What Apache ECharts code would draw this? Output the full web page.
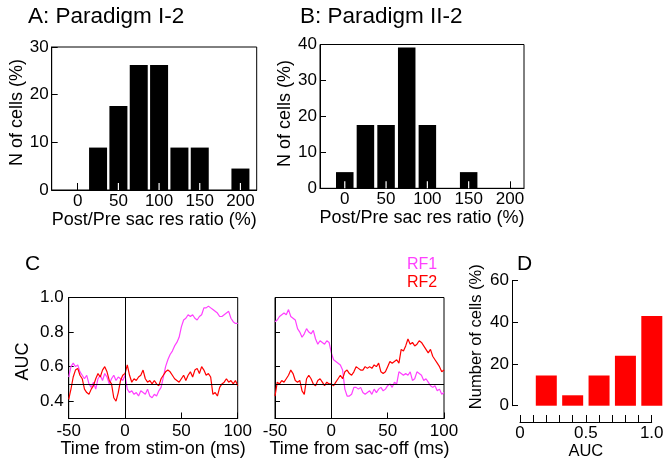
<!DOCTYPE html>
<html>
<head>
<meta charset="utf-8">
<title>Post/Pre saccade ratio and AUC</title>
<script src="https://cdn.jsdelivr.net/npm/echarts@6/dist/echarts.min.js"></script>
<style>
  html, body { margin: 0; padding: 0; background: #fff; }
  #chart { width: 665px; height: 466px; }
</style>
</head>
<body>
<div id="chart"></div>
<script>
// ---- data ----

// A: Paradigm I-2 histogram (bin centre, % of cells)
const binsA = [25, 50, 75, 100, 125, 150, 200]
const pctA = [8.9, 17.6, 26.2, 26.2, 8.9, 8.9, 4.5]

// B: Paradigm II-2 histogram
const binsB = [0, 25, 50, 75, 100, 150]
const pctB = [4.5, 17.6, 17.6, 39.2, 17.6, 4.5]

// D: AUC histogram
const binsD = [0.2, 0.4, 0.6, 0.8, 1.0]
const pctD = [14.5, 5, 14.5, 24, 43]

// tick labels
const ratioTicks = [0, 50, 100, 150, 200]
const aucTicks = [0.4, 0.6, 0.8, 1.0]
const rulerTicks = [0, 0.1, 0.2, 0.3, 0.4, 0.5, 0.6, 0.7, 0.8, 0.9, 1.0]
const rulerLabels = [0, 0.5, 1.0]

// C: time base, -50 .. 100 ms every 2 ms
const timeMs = []
for (let t = -50; t <= 100; t += 2) timeMs.push(t)

// C left: aligned to stim-on
const stimRF1 = [
  0.54, 0.60, 0.62, 0.60, 0.61, 0.57, 0.55, 0.53, 0.55, 0.50,
  0.48, 0.51, 0.47, 0.53, 0.55, 0.52, 0.56, 0.54, 0.50, 0.53,
  0.55, 0.52, 0.54, 0.53, 0.52, 0.55, 0.47, 0.45, 0.46, 0.44,
  0.45, 0.43, 0.46, 0.45, 0.44, 0.47, 0.43, 0.42, 0.44, 0.43,
  0.46, 0.48, 0.54, 0.60, 0.64, 0.67, 0.69, 0.72, 0.74, 0.77,
  0.83, 0.87, 0.88, 0.90, 0.89, 0.90, 0.88, 0.87, 0.89, 0.90,
  0.94, 0.94, 0.95, 0.94, 0.93, 0.92, 0.91, 0.89, 0.89, 0.90,
  0.91, 0.92, 0.88, 0.86, 0.85, 0.85
]
const stimRF2 = [
  0.41, 0.47, 0.54, 0.58, 0.59, 0.55, 0.53, 0.47, 0.45, 0.44,
  0.47, 0.49, 0.53, 0.56, 0.54, 0.58, 0.60, 0.57, 0.52, 0.50,
  0.42, 0.40, 0.45, 0.52, 0.55, 0.56, 0.61, 0.55, 0.51, 0.53,
  0.52, 0.54, 0.55, 0.58, 0.53, 0.51, 0.52, 0.50, 0.52, 0.50,
  0.49, 0.53, 0.55, 0.57, 0.58, 0.57, 0.55, 0.53, 0.52, 0.51,
  0.53, 0.55, 0.52, 0.55, 0.57, 0.54, 0.58, 0.59, 0.56, 0.60,
  0.58, 0.55, 0.56, 0.54, 0.44, 0.45, 0.43, 0.48, 0.50, 0.51,
  0.53, 0.51, 0.52, 0.50, 0.52, 0.49
]

// C right: aligned to saccade offset
const sacRF1 = [
  0.86, 0.87, 0.89, 0.90, 0.91, 0.90, 0.93, 0.89, 0.88, 0.87,
  0.82, 0.80, 0.77, 0.79, 0.82, 0.80, 0.79, 0.81, 0.76, 0.73,
  0.75, 0.74, 0.73, 0.75, 0.74, 0.68, 0.64, 0.63, 0.62, 0.61,
  0.58, 0.47, 0.43, 0.43, 0.44, 0.48, 0.48, 0.47, 0.48, 0.45,
  0.44, 0.45, 0.46, 0.44, 0.47, 0.45, 0.47, 0.48, 0.46, 0.47,
  0.49, 0.50, 0.48, 0.51, 0.50, 0.57, 0.56, 0.55, 0.56, 0.55,
  0.57, 0.52, 0.53, 0.57, 0.56, 0.55, 0.52, 0.53, 0.51, 0.49,
  0.48, 0.49, 0.46, 0.47, 0.44, 0.45
]
const sacRF2 = [
  0.43, 0.51, 0.50, 0.52, 0.51, 0.53, 0.55, 0.58, 0.56, 0.52,
  0.51, 0.52, 0.46, 0.44, 0.53, 0.55, 0.53, 0.50, 0.49, 0.52,
  0.53, 0.51, 0.49, 0.51, 0.50, 0.50, 0.49, 0.51, 0.53, 0.55,
  0.53, 0.57, 0.58, 0.56, 0.55, 0.57, 0.60, 0.59, 0.58, 0.58,
  0.60, 0.59, 0.60, 0.59, 0.61, 0.60, 0.62, 0.57, 0.56, 0.57,
  0.60, 0.63, 0.62, 0.63, 0.64, 0.62, 0.70, 0.69, 0.72, 0.76,
  0.73, 0.74, 0.72, 0.73, 0.75, 0.74, 0.72, 0.70, 0.68, 0.70,
  0.66, 0.64, 0.62, 0.60, 0.57, 0.58
]

// ---- styling ----
const FONT = "'Liberation Sans', Arial, sans-serif"
const MAGENTA = '#ff40ff'
const RED = '#ff0000'
const TICK = 17   // tick label size
const NAME = 18   // axis name size

const pairs = (xs, ys) => xs.map((x, i) => [x, ys[i]])

// ticks that fall inside a bar show as white notches in the reference
const ticksInBars = (ticks, bins, half) =>
  ticks.filter(t => bins.some(b => Math.abs(b - t) < half))

const box = (left, top, width, height) => ({
  left, top, width, height,
  show: true,
  borderColor: '#000',
  borderWidth: 1,
  backgroundColor: 'transparent',
  containLabel: false,
  outerBoundsMode: 'none'
})

const plainGrid = (left, top, width, height) => ({
  left, top, width, height, show: false, containLabel: false, outerBoundsMode: 'none'
})

const axisBase = (extra) => Object.assign({
  type: 'value',
  axisLine: { show: true, onZero: false, lineStyle: { color: '#000', width: 1 } },
  axisTick: { show: true, inside: true, length: 6, lineStyle: { color: '#000', width: 1 } },
  axisLabel: { color: '#000', fontSize: TICK, fontFamily: FONT, margin: 4 },
  splitLine: { show: false },
  nameLocation: 'middle',
  nameTextStyle: { color: '#000', fontSize: NAME, fontFamily: FONT }
}, extra)

const ratioAxis = (gridIndex, min, max) => axisBase({
  gridIndex, min, max,
  axisTick: { inside: true, length: 7, customValues: ratioTicks, lineStyle: { color: '#000' } },
  axisLabel: { color: '#000', fontSize: TICK, fontFamily: FONT, margin: 3, customValues: ratioTicks },
  name: 'Post/Pre sac res ratio (%)', nameGap: 17
})

// white tick notches drawn on top of the bars, placed through the axis scale
const notchSeries = (axisIdx, values) => ({
  type: 'custom',
  xAxisIndex: axisIdx,
  yAxisIndex: axisIdx,
  z: 5,
  silent: true,
  data: values.map(v => [v, 0]),
  renderItem: (params, api) => {
    const p = api.coord([api.value(0), api.value(1)])
    return {
      type: 'line',
      shape: { x1: p[0], y1: p[1], x2: p[0], y2: p[1] - 7 },
      style: { stroke: '#fff', lineWidth: 1.2 }
    }
  }
})

const refLines = {
  silent: true,
  symbol: ['none', 'none'],
  label: { show: false },
  lineStyle: { color: '#000', width: 1, type: 'solid' },
  data: [{ yAxis: 0.5 }, { xAxis: 0 }]
}

const lineSeries = (name, values, color, axisIdx, withRef) => ({
  name,
  type: 'line',
  xAxisIndex: axisIdx,
  yAxisIndex: axisIdx,
  data: pairs(timeMs, values),
  showSymbol: false,
  lineStyle: { color, width: 1.2 },
  itemStyle: { color },
  markLine: withRef ? refLines : undefined
})

const textEl = (text, x, y, size, color) => ({
  type: 'text',
  left: x,
  top: y,
  style: { text, font: `${size}px ${FONT}`, fill: color || '#000' }
})

const option = {
  animation: false,
  backgroundColor: '#fff',
  grid: [
    box(51.7, 47, 205, 143),     // A
    box(320, 44.5, 204, 143.8),  // B
    box(68.7, 297.5, 169, 121),  // C left
    box(275, 297.5, 169, 121),   // C right
    plainGrid(512, 280.7, 153, 125),  // D bars
    plainGrid(520, 400, 131.7, 22)    // D ruler
  ],
  xAxis: [
    ratioAxis(0, -32, 220),
    ratioAxis(1, -30, 217),
    axisBase({ gridIndex: 2, min: -50, max: 100, interval: 50, name: 'Time from stim-on (ms)', nameGap: 20 }),
    axisBase({ gridIndex: 3, min: -50, max: 100, interval: 50, name: 'Time from sac-off (ms)', nameGap: 20 }),
    { gridIndex: 4, type: 'value', min: -0.06, max: 1.1, show: false },
    axisBase({
      gridIndex: 5, min: 0, max: 1,
      axisTick: { inside: true, length: 7, customValues: rulerTicks, lineStyle: { color: '#000' } },
      axisLabel: {
        color: '#000', fontSize: TICK, fontFamily: FONT, margin: 3, customValues: rulerLabels,
        formatter: (v) => (v === 0 ? '0' : v.toFixed(1))
      },
      name: 'AUC', nameGap: 20,
      nameTextStyle: { color: '#000', fontSize: 16.5, fontFamily: FONT }
    })
  ],
  yAxis: [
    axisBase({
      gridIndex: 0, min: 0, max: 30, interval: 10, name: 'N of cells (%)', nameGap: 23,
      axisLabel: { color: '#000', fontSize: TICK, fontFamily: FONT, margin: 3 },
      nameTextStyle: { color: '#000', fontSize: NAME, fontFamily: FONT, padding: [0, 0, 0, 12] }
    }),
    axisBase({
      gridIndex: 1, min: 0, max: 40, interval: 10, name: 'N of cells (%)', nameGap: 26,
      axisLabel: { color: '#000', fontSize: TICK, fontFamily: FONT, margin: 3 },
      nameTextStyle: { color: '#000', fontSize: NAME, fontFamily: FONT, padding: [0, 0, 0, 6] }
    }),
    axisBase({
      gridIndex: 2, min: 0.3, max: 1.0,
      axisTick: { inside: true, length: 5, customValues: aucTicks, lineStyle: { color: '#000' } },
      axisLabel: {
        color: '#000', fontSize: TICK, fontFamily: FONT, margin: 5, customValues: aucTicks,
        formatter: (v) => v.toFixed(1)
      },
      name: 'AUC', nameGap: 37,
      nameTextStyle: { color: '#000', fontSize: NAME, fontFamily: FONT, padding: [0, 7, 0, 0] }
    }),
    axisBase({
      gridIndex: 3, min: 0.3, max: 1.0,
      axisTick: { inside: true, length: 5, customValues: aucTicks, lineStyle: { color: '#000' } },
      axisLabel: { show: false }
    }),
    axisBase({
      gridIndex: 4, min: 0, max: 60, interval: 20,
      axisTick: { inside: true, length: 6, lineStyle: { color: '#000' } },
      axisLabel: { color: '#000', fontSize: TICK, fontFamily: FONT, margin: 3 },
      name: 'Number of cells (%)', nameGap: 27,
      nameTextStyle: { color: '#000', fontSize: 16.5, fontFamily: FONT, padding: [0, 0, 0, 13] }
    }),
    { gridIndex: 5, type: 'value', min: 0, max: 1, show: false }
  ],
  series: [
    {
      type: 'bar', xAxisIndex: 0, yAxisIndex: 0,
      data: pairs(binsA, pctA), barWidth: 18, itemStyle: { color: '#000' }
    },
    {
      type: 'bar', xAxisIndex: 1, yAxisIndex: 1,
      data: pairs(binsB, pctB), barWidth: 17.5, itemStyle: { color: '#000' }
    },
    notchSeries(0, ticksInBars(ratioTicks, binsA, 12.5)),
    notchSeries(1, ticksInBars(ratioTicks, binsB, 12.5)),
    lineSeries('RF1', stimRF1, MAGENTA, 2, true),
    lineSeries('RF2', stimRF2, RED, 2, false),
    lineSeries('RF1', sacRF1, MAGENTA, 3, true),
    lineSeries('RF2', sacRF2, RED, 3, false),
    {
      type: 'bar', xAxisIndex: 4, yAxisIndex: 4,
      data: pairs(binsD, pctD), barWidth: 21, itemStyle: { color: RED }
    }
  ],
  graphic: [
    textEl('A: Paradigm I-2', 28, 5, 22.5),
    textEl('B: Paradigm II-2', 300, 5, 22.5),
    textEl('C', 25, 254, 21),
    textEl('D', 517, 254, 21),
    textEl('RF1', 407, 257, 16, MAGENTA),
    textEl('RF2', 407, 275, 16, RED)
  ]
}

const chart = echarts.init(document.getElementById('chart'), null, { renderer: 'canvas' })
chart.setOption(option)
</script>
</body>
</html>
